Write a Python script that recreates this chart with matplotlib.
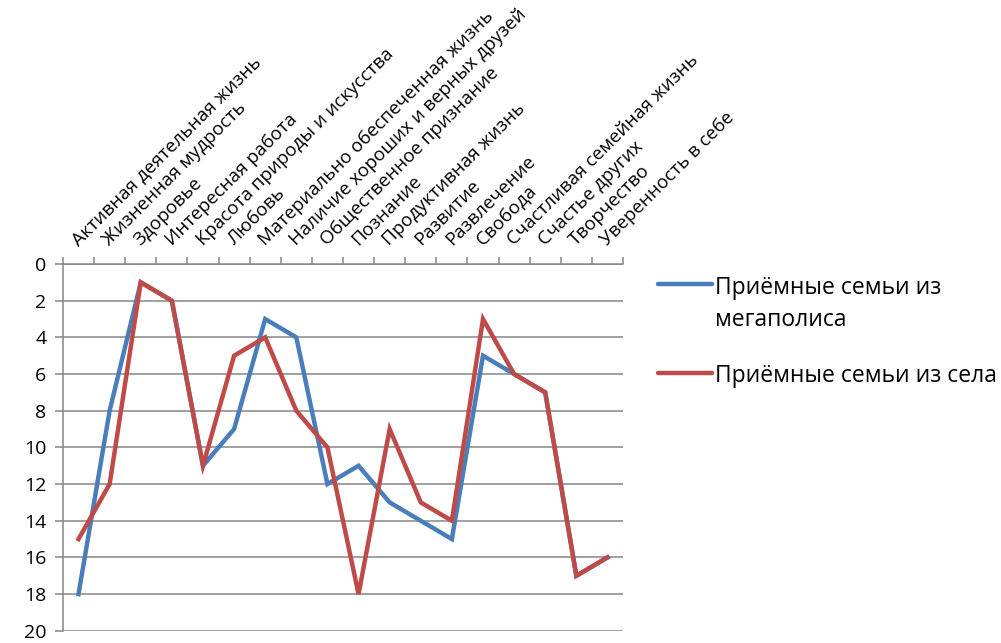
import matplotlib.pyplot as plt
from matplotlib.lines import Line2D
import numpy as np

categories = [
    "Активная деятельная жизнь", "Жизненная мудрость", "Здоровье",
    "Интересная работа", "Красота природы и искусства", "Любовь",
    "Материально обеспеченная жизнь", "Наличие хороших и верных друзей",
    "Общественное признание", "Познание", "Продуктивная жизнь", "Развитие",
    "Развлечение", "Свобода", "Счастливая семейная жизнь", "Счастье других",
    "Творчество", "Уверенность в себе",
]
megapolis = [18, 8, 1, 2, 11, 9, 3, 4, 12, 11, 13, 14, 15, 5, 6, 7, 17, 16]
village = [15, 12, 1, 2, 11, 5, 4, 8, 10, 18, 9, 13, 14, 3, 6, 7, 17, 16]
y_ticks = list(range(0, 21, 2))
series_names = ['Приёмные семьи из\nмегаполиса', 'Приёмные семьи из села']
colors = ['#4A7EBB', '#BE4B48']

plt.rcParams['font.family'] = ['Open Sans', 'DejaVu Sans']

fig = plt.figure(figsize=(10.01, 6.43), dpi=100)
ax = fig.add_axes([0.0629, 0.0190, 0.5595, 0.5704])

x = np.arange(len(categories))
grid_c = '#868686'
for vals, c in zip([megapolis, village], colors):
    ax.plot(x, vals, color=c, lw=3.2, solid_joinstyle='miter', zorder=3)

ax.set_xlim(-0.5, len(categories) - 0.5)
ax.set_ylim(20, 0)
ax.set_yticks(y_ticks)
for yv in y_ticks:
    ax.axhline(yv, color=grid_c, lw=1.1, zorder=1)

for s in ['right', 'bottom']:
    ax.spines[s].set_visible(False)
for s in ['left', 'top']:
    ax.spines[s].set_color(grid_c)
    ax.spines[s].set_linewidth(1.1)

ax.xaxis.tick_top()
ax.set_xticks(x)
ax.set_xticklabels(categories, rotation=45, ha='left', va='baseline',
                   rotation_mode='anchor', fontsize=13.5)
ax.tick_params(axis='x', which='major', length=0, pad=13)
ax.set_xticks(np.arange(-0.5, len(categories)), minor=True)
ax.tick_params(axis='x', which='minor', length=5, color=grid_c, width=1.1, direction='out')
ax.tick_params(axis='y', length=6, color=grid_c, width=1.1, labelsize=14, pad=6)

# legend drawn by hand: handle aligned with the first text line
# (multi-line text with va='baseline' sits on its last line)
leg_y = [0.5583, 0.4199]
text_y = [0.4930, 0.4059]
for name, c, ly, ty in zip(series_names, colors, leg_y, text_y):
    fig.add_artist(Line2D([0.657, 0.711], [ly, ly], color=c, lw=3.2,
                          solid_capstyle='round', transform=fig.transFigure))
    fig.text(0.7143, ty, name, fontsize=16.5, va='baseline', ha='left',
             linespacing=1.45)

fig.savefig('out.png', dpi=100)
